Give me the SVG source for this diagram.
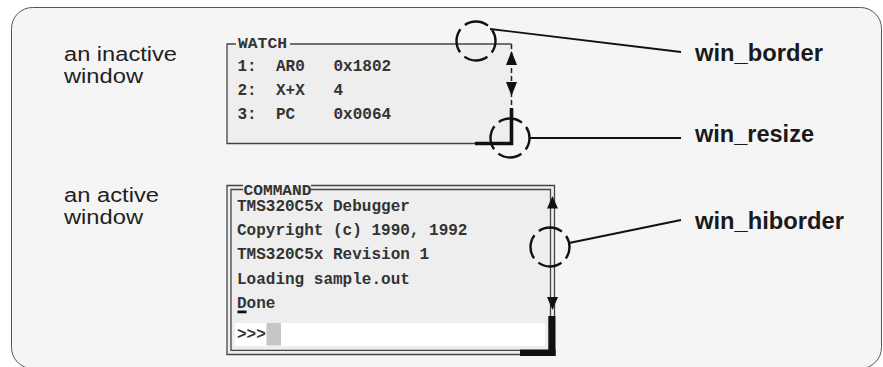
<svg xmlns="http://www.w3.org/2000/svg" width="883" height="367" viewBox="0 0 883 367">
<style>
.lbl{font-family:"Liberation Sans",Arial,sans-serif;font-size:19.5px;fill:#222}
.blbl{font-family:"Liberation Sans",Arial,sans-serif;font-size:23px;font-weight:bold;fill:#1a1a1a}
.mono{font-family:"Liberation Mono","Courier New",monospace;font-size:16px;font-weight:bold;fill:#333}
.title{font-family:"Liberation Mono","Courier New",monospace;font-size:14px;font-weight:bold;fill:#333}
.thin{fill:none;stroke:#444;stroke-width:1.3}
.thick{fill:none;stroke:#111;stroke-width:3.6}
.callout{fill:none;stroke:#111;stroke-width:2.4;stroke-dasharray:24.6 6;stroke-dashoffset:12.3}
.lead{fill:none;stroke:#111;stroke-width:1.8}
.arrow{fill:#111}
</style>
<rect id="frame" x="11.5" y="7.5" width="870" height="361" rx="21" fill="#f5f5f5" stroke="#555" stroke-width="1"/>
<g id="label-inactive">
<text class="lbl" x="64" y="61" textLength="113" lengthAdjust="spacingAndGlyphs">an inactive</text>
<text class="lbl" x="64" y="83" textLength="79" lengthAdjust="spacingAndGlyphs">window</text>
</g>
<g id="label-active">
<text class="lbl" x="64" y="202" textLength="95" lengthAdjust="spacingAndGlyphs">an active</text>
<text class="lbl" x="64" y="224" textLength="79" lengthAdjust="spacingAndGlyphs">window</text>
</g>
<g id="watch-window">
<rect x="227" y="44" width="284.5" height="99.5" fill="#eeeeee"/>
<path class="thin" d="M236,44 H227 V143.5 H476"/>
<path class="thin" d="M290,44 H511.5"/>
<text class="title" x="238" y="47.5" textLength="49" lengthAdjust="spacingAndGlyphs">WATCH</text>
<path d="M511.5,44 V108" fill="none" stroke="#222" stroke-width="1.5" stroke-dasharray="5 3"/>
<polygon class="arrow" points="511.5,51 506,65 517,65"/>
<polygon class="arrow" points="506,82 517,82 511.5,96"/>
<path class="thick" d="M475,143.5 H511.5 V108"/>
<text class="mono" y="70.5"><tspan x="237.5">1:</tspan><tspan x="276">AR0</tspan><tspan x="333.5">0x1802</tspan></text>
<text class="mono" y="94.5"><tspan x="237.5">2:</tspan><tspan x="276">X+X</tspan><tspan x="333.5">4</tspan></text>
<text class="mono" y="118.5"><tspan x="237.5">3:</tspan><tspan x="276">PC</tspan><tspan x="333.5">0x0064</tspan></text>
</g>
<g id="command-window">
<rect x="227" y="185.5" width="328" height="169" fill="#eeeeee"/>
<rect x="235" y="323" width="310" height="23" fill="#ffffff"/>
<rect x="266.5" y="323" width="14.5" height="22.5" fill="#c6c6c6"/>
<path class="thin" d="M243,185.5 H227 V354.5 H520"/>
<path class="thin" d="M243,189.5 H231 V350.3 H520"/>
<path class="thin" d="M311,185.5 H554.5 V316"/>
<path class="thin" d="M311,189.5 H550.5 V316"/>
<text class="title" x="243.5" y="195" textLength="68" lengthAdjust="spacingAndGlyphs">COMMAND</text>
<polygon class="arrow" points="552.5,196 547,208.5 558,208.5"/>
<polygon class="arrow" points="547,297 558,297 552.5,310"/>
<rect x="548.3" y="316" width="7.2" height="40" fill="#111"/>
<rect x="520" y="349.5" width="35.5" height="6.5" fill="#111"/>
<text class="mono" x="237" y="210.7">TMS320C5x Debugger</text>
<text class="mono" x="237" y="235">Copyright (c) 1990, 1992</text>
<text class="mono" x="237" y="259.3">TMS320C5x Revision 1</text>
<text class="mono" x="237" y="283.5">Loading sample.out</text>
<text class="mono" x="237" y="307.8">Done</text>
<rect x="237.5" y="310.5" width="9" height="2.8" fill="#111"/>
<text class="mono" x="237" y="338.5" font-size="15">&gt;&gt;&gt;</text>
</g>
<g id="callout-border">
<circle class="callout" cx="476" cy="41" r="19.5"/>
<text class="blbl" x="695" y="61" textLength="128" lengthAdjust="spacingAndGlyphs">win_border</text>
</g>
<g id="callout-resize">
<circle class="callout" cx="510" cy="138" r="19.5"/>
<text class="blbl" x="695" y="142" textLength="119" lengthAdjust="spacingAndGlyphs">win_resize</text>
</g>
<g id="callout-hiborder">
<circle class="callout" cx="550" cy="247" r="19.5"/>
<text class="blbl" x="695" y="229" textLength="149" lengthAdjust="spacingAndGlyphs">win_hiborder</text>
</g>
<g id="connectors">
<line class="lead" x1="490" y1="29" x2="681" y2="52"/>
<line class="lead" x1="529.5" y1="138" x2="681" y2="138"/>
<line class="lead" x1="569" y1="243" x2="681" y2="220"/>
</g>
</svg>
